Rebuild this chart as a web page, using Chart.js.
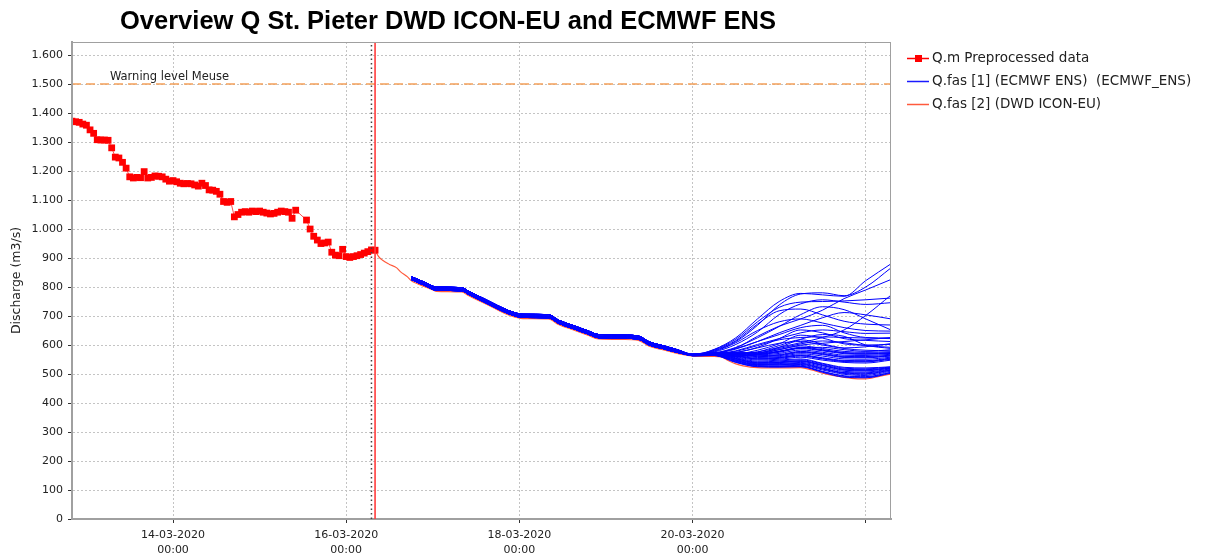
<!DOCTYPE html>
<html>
<head>
<meta charset="utf-8">
<title>Overview Q St. Pieter</title>
<script src="https://cdn.jsdelivr.net/npm/chart.js@4.4.0/dist/chart.umd.min.js"></script>
<style>
  html, body { margin: 0; padding: 0; background: #fff; }
  #wrap { width: 1206px; height: 555px; position: relative; }
</style>
</head>
<body>
<div id="wrap"><canvas id="chart" width="1206" height="555"></canvas></div>
<script>
// hours are counted from 14-03-2020 00:00
const xMin = -28;
const xMax = 199;
const yMax = 1645;
const yTicks = [0, 100, 200, 300, 400, 500, 600, 700, 800, 900, 1000, 1100, 1200, 1300, 1400, 1500, 1600];
const xTickHours = [0, 48, 96, 144, 192];
const xTickLabels = [['14-03-2020', '00:00'], ['16-03-2020', '00:00'], ['18-03-2020', '00:00'], ['20-03-2020', '00:00'], ''];

const titleText = 'Overview Q St. Pieter DWD ICON-EU and ECMWF ENS';
const warningLevel = 1500;
const warningLabel = 'Warning level Meuse';
const nowHour = 55;
const forecastHour = 56;

// observed, hourly from 12-03 20:00 (null = missing)
const obsStartHour = -28;
const obsValues = [
  1372, 1370, 1368, 1362, 1358, 1342, 1330, 1308, 1307, 1307, 1306, 1280, 1248, 1245, 1230, 1210,
  1180, 1176, 1178, 1177, 1198, 1176, 1178, 1183, 1182, 1180, 1172, 1165, 1167, 1163, 1158, 1156,
  1157, 1156, 1152, 1148, 1158, 1150, 1135, 1134, 1130, 1120, 1095, 1092, 1095, 1042, 1050, 1058,
  1060, 1058, 1062, 1060, 1062, 1058, 1055, 1052, 1054, 1058, 1062, 1060, 1058, 1037, 1065, null,
  null, 1031, 1000, 975, 962, 950, 952, 955, 920, 910, 908, 930, 905, 902, 905, 908,
  912, 917, 922, 928, 927
];

// DWD ICON-EU
const iconHours = [56, 57, 58, 60, 62, 63, 65, 66, 68, 70, 72, 73, 80, 82, 86, 90, 93, 97, 104, 107,
  111, 115, 118, 125, 129, 132, 136, 140, 144, 147, 150, 152, 154, 156, 158, 160, 162, 168, 174, 177,
  180, 184, 188, 192, 196, 199];
const iconValues = [927, 905, 893, 878, 866, 853, 835, 822, 810, 800, 790, 785, 783, 770, 746, 721, 704, 691, 690, 670,
  652, 634, 621, 619, 616, 596, 583, 570, 562, 561, 561, 559, 546, 535, 528, 524, 522, 521, 522, 514,
  503, 493, 485, 483, 493, 500];

// ECMWF ENS: shared first part (three edges of the band), then per member
const ensCommonHours = [66, 70, 73, 80, 82, 86, 90, 93, 97, 104, 107, 111, 115, 118, 125, 129, 132, 136, 140];
const ensCommonLow  = [826, 804, 789, 787, 774, 750, 725, 708, 695, 694, 674, 656, 638, 625, 623, 620, 600, 587, 574];
const ensCommonMid  = [830, 809, 794, 792, 779, 755, 730, 713, 700, 699, 679, 661, 643, 630, 628, 625, 605, 592, 578];
const ensCommonHigh = [836, 815, 800, 798, 785, 761, 736, 719, 706, 705, 685, 667, 649, 636, 634, 631, 611, 597, 583];
const ensTailHours = [144, 150, 156, 162, 168, 174, 180, 186, 192, 199];
const ensTails = [
  [567, 585, 625, 690, 750, 778, 773, 768, 822, 880],
  [566, 580, 612, 668, 738, 776, 780, 770, 800, 866],
  [566, 584, 620, 680, 730, 748, 750, 752, 756, 762],
  [565, 576, 602, 645, 705, 742, 756, 748, 740, 746],
  [566, 582, 615, 672, 718, 724, 704, 682, 672, 669],
  [565, 572, 592, 625, 664, 705, 732, 722, 690, 652],
  [565, 570, 586, 612, 642, 668, 694, 712, 704, 690],
  [565, 568, 580, 602, 622, 642, 652, 646, 640, 641],
  [565, 572, 588, 612, 636, 660, 668, 642, 626, 624],
  [564, 566, 574, 592, 622, 652, 642, 622, 616, 612],
  [564, 566, 570, 576, 592, 608, 626, 652, 702, 772],
  [564, 565, 568, 582, 604, 634, 624, 604, 600, 602],
  [564, 565, 567, 572, 588, 604, 614, 608, 598, 592],
  [563, 565, 567, 576, 598, 618, 604, 588, 582, 580],
  [563, 564, 562, 568, 584, 600, 606, 612, 618, 626],
  [564, 568, 578, 598, 618, 626, 628, 626, 624, 622],
  [563, 564, 561, 566, 578, 590, 592, 584, 578, 584],
  [563, 566, 574, 590, 606, 612, 600, 590, 594, 605],
  [564, 570, 590, 630, 665, 690, 720, 760, 790, 826],
  [563, 564, 562, 570, 592, 620, 636, 630, 600, 588],
  [565, 578, 608, 650, 680, 690, 676, 660, 650, 648],
  [565, 564, 540, 525, 524, 525, 506, 489, 487, 503],
  [565, 565, 542, 527, 526, 527, 509, 494, 491, 506],
  [566, 565, 544, 529, 528, 530, 514, 499, 495, 510],
  [566, 566, 546, 531, 531, 533, 517, 502, 499, 513],
  [566, 566, 548, 533, 534, 537, 521, 505, 504, 516],
  [566, 567, 550, 535, 536, 540, 525, 509, 507, 518],
  [567, 567, 552, 537, 539, 543, 529, 513, 511, 520],
  [567, 568, 554, 539, 542, 546, 532, 517, 515, 522],
  [567, 568, 556, 541, 545, 549, 535, 520, 518, 524],
  [567, 569, 558, 544, 548, 552, 537, 523, 521, 525],
  [567, 569, 560, 548, 551, 558, 548, 540, 538, 548],
  [567, 570, 562, 551, 554, 562, 552, 543, 542, 551],
  [568, 570, 564, 554, 557, 566, 556, 547, 546, 555],
  [568, 571, 566, 557, 560, 570, 562, 552, 551, 558],
  [568, 571, 568, 560, 563, 574, 567, 557, 556, 562],
  [568, 572, 569, 563, 567, 578, 571, 561, 560, 565],
  [568, 573, 570, 566, 571, 583, 575, 565, 564, 568],
  [569, 573, 571, 568, 575, 588, 580, 570, 568, 571],
  [569, 574, 572, 571, 579, 592, 584, 574, 572, 574],
  [569, 575, 574, 574, 584, 597, 588, 578, 575, 577],
  [565, 564, 541, 526, 525, 526, 508, 492, 489, 505],
  [566, 566, 547, 532, 532, 535, 519, 504, 501, 514],
  [567, 568, 553, 538, 540, 545, 530, 515, 513, 521],
  [568, 570, 563, 552, 556, 564, 554, 545, 544, 553],
  [568, 572, 568, 562, 565, 576, 569, 559, 558, 563],
  [569, 574, 572, 569, 577, 590, 582, 572, 570, 572]
];

const legendItems = [
  { text: 'Q.m Preprocessed data', color: '#ff0000', marker: true },
  { text: 'Q.fas [1] (ECMWF ENS)  (ECMWF_ENS)', color: '#1a1aff', marker: false },
  { text: 'Q.fas [2] (DWD ICON-EU)', color: '#ff5a3c', marker: false }
];

const FONT = '"DejaVu Sans", Verdana, sans-serif';

function toPoints(xs, ys) {
  return xs.map((x, i) => ({ x: x, y: ys[i] }));
}

const obsData = obsValues.map((v, i) => ({ x: obsStartHour + i, y: v }));
const commons = [ensCommonLow, ensCommonMid, ensCommonHigh];

const ensembleSets = ensTails.map((tail, i) => ({
  label: 'ens' + i,
  data: toPoints(ensCommonHours.concat(ensTailHours), commons[i % 3].concat(tail)),
  borderColor: '#0000ff',
  borderWidth: 1,
  pointRadius: 0,
  cubicInterpolationMode: 'monotone',
  order: 2
}));

const overlayPlugin = {
  id: 'overlay',
  afterDraw(chart) {
    const { ctx, chartArea: a, scales: { x, y } } = chart;
    ctx.save();

    // frame around plot
    ctx.strokeStyle = '#a0a0a0';
    ctx.lineWidth = 1;
    ctx.strokeRect(a.left + 0.5, a.top + 0.5, a.right - a.left - 1, a.bottom - a.top);

    // warning label
    ctx.font = '11.5px ' + FONT;
    ctx.fillStyle = '#222';
    ctx.textAlign = 'left';
    ctx.textBaseline = 'alphabetic';
    ctx.fillText(warningLabel, x.getPixelForValue(-17.5), y.getPixelForValue(warningLevel) - 4);

    // title
    ctx.font = 'bold 25.5px "Liberation Sans", Arial, sans-serif';
    ctx.fillStyle = '#000';
    ctx.textAlign = 'center';
    ctx.fillText(titleText, 448, 29);

    // legend
    ctx.textAlign = 'left';
    ctx.textBaseline = 'middle';
    ctx.font = '13.5px ' + FONT;
    legendItems.forEach((item, i) => {
      const ly = 58 + i * 23;
      ctx.strokeStyle = item.color;
      ctx.lineWidth = 1.5;
      ctx.beginPath();
      ctx.moveTo(907, ly + 0.5);
      ctx.lineTo(929, ly + 0.5);
      ctx.stroke();
      if (item.marker) {
        ctx.fillStyle = item.color;
        ctx.fillRect(915, ly - 3, 7, 7);
      }
      ctx.fillStyle = '#222';
      ctx.fillText(item.text, 932, ly);
    });

    ctx.restore();
  }
};

new Chart(document.getElementById('chart'), {
  type: 'line',
  data: {
    datasets: [
      {
        label: 'now',
        data: [{ x: nowHour, y: 0 }, { x: nowHour, y: yMax }],
        borderColor: '#444',
        borderWidth: 1.5,
        borderDash: [1.5, 3],
        pointRadius: 0,
        order: 0
      },
      {
        label: 'T0',
        data: [{ x: forecastHour, y: 0 }, { x: forecastHour, y: yMax }],
        borderColor: '#ff3c3c',
        borderWidth: 1.6,
        pointRadius: 0,
        order: 0
      },
      {
        label: legendItems[0].text,
        data: obsData,
        borderColor: '#ff5050',
        borderWidth: 1,
        pointStyle: 'rect',
        pointRadius: 4.8,
        pointBackgroundColor: '#ff0000',
        pointBorderWidth: 0,
        spanGaps: true,
        order: 1
      },
      ...ensembleSets,
      {
        label: legendItems[2].text,
        data: toPoints(iconHours, iconValues),
        borderColor: '#ff5a3c',
        borderWidth: 1.2,
        pointRadius: 0,
        cubicInterpolationMode: 'monotone',
        order: 3
      },
      {
        label: warningLabel,
        data: [{ x: xMin, y: warningLevel }, { x: xMax, y: warningLevel }],
        borderColor: '#f3a05a',
        borderWidth: 1.5,
        borderDash: [9, 5],
        pointRadius: 0,
        order: 4
      }
    ]
  },
  options: {
    responsive: false,
    animation: false,
    events: [],
    layout: { padding: { top: 42, right: 315, left: 0, bottom: 0 } },
    plugins: {
      legend: { display: false },
      tooltip: { enabled: false },
      title: { display: false }
    },
    scales: {
      x: {
        type: 'linear',
        min: xMin,
        max: xMax,
        afterBuildTicks: scale => { scale.ticks = xTickHours.map(v => ({ value: v })); },
        afterFit: scale => { scale.height = 36; },
        grid: { color: '#c4c4c4', lineWidth: 1, tickLength: 4, tickColor: '#333' },
        border: { display: true, color: '#a0a0a0', width: 2, dash: [2, 2] },
        ticks: {
          autoSkip: false,
          maxRotation: 0,
          padding: 5,
          color: '#222',
          font: { family: FONT, size: 11, lineHeight: 1.35 },
          callback: value => {
            const i = xTickHours.indexOf(value);
            return i >= 0 ? xTickLabels[i] : '';
          }
        }
      },
      y: {
        type: 'linear',
        min: 0,
        max: yMax,
        afterBuildTicks: scale => { scale.ticks = yTicks.map(v => ({ value: v })); },
        afterFit: scale => { scale.width = 72; },
        grid: { color: '#c4c4c4', lineWidth: 1, tickLength: 4, tickColor: '#333' },
        border: { display: true, color: '#a0a0a0', width: 2, dash: [2, 2] },
        title: {
          display: true,
          text: 'Discharge (m3/s)',
          color: '#222',
          font: { family: FONT, size: 12.5 },
          padding: { top: 9, bottom: 0 }
        },
        ticks: {
          padding: 5,
          color: '#222',
          font: { family: FONT, size: 11 },
          callback: value => value >= 1000
            ? Math.floor(value / 1000) + '.' + String(value % 1000).padStart(3, '0')
            : String(value)
        }
      }
    }
  },
  plugins: [overlayPlugin]
});
</script>
</body>
</html>
